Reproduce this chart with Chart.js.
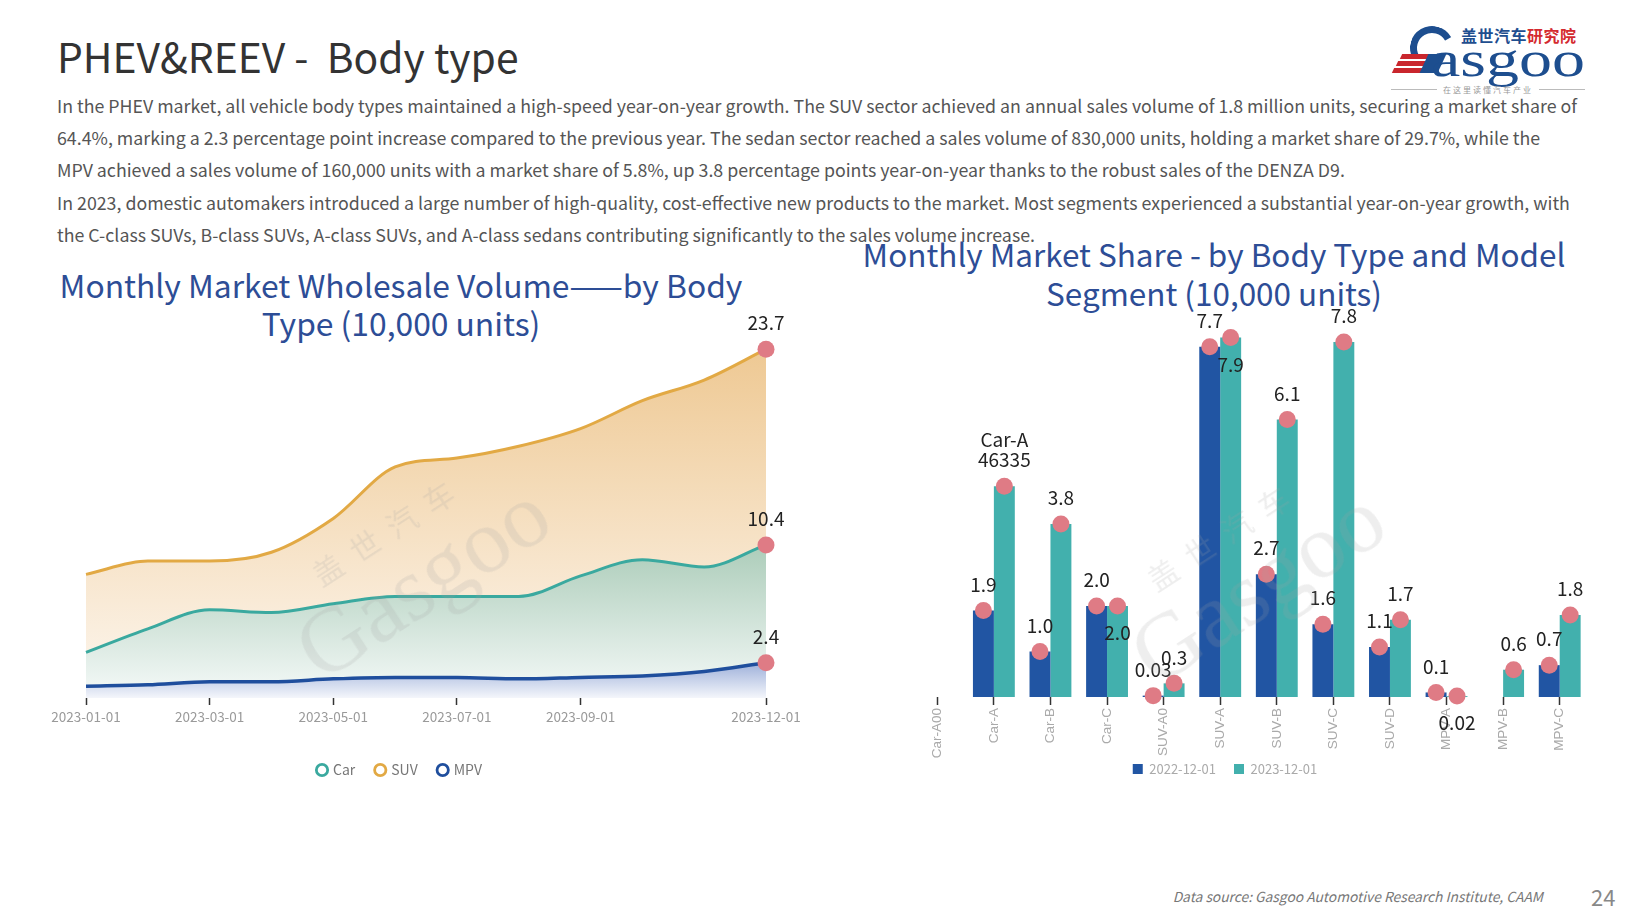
<!DOCTYPE html>
<html>
<head>
<meta charset="utf-8">
<script src="https://cdn.jsdelivr.net/npm/chart.js@4.4.1/dist/chart.umd.min.js"></script>
<style>
html,body{margin:0;padding:0;background:#fff;}
body{width:1640px;height:922px;position:relative;overflow:hidden;font-family:"Noto Sans CJK SC","Noto Sans",sans-serif;}
.abs{position:absolute;}
#title{left:57px;top:30px;font-size:40.8px;color:#333;white-space:pre;line-height:52px;}
#para{left:57px;top:89px;font-size:18px;color:#555;line-height:32.2px;white-space:nowrap;}
#para div{width:max-content;}
.ctitle{color:#2d4d96;font-size:31px;line-height:38px;text-align:center;white-space:nowrap;}
.ctitle div{width:max-content;margin:0 auto;}
#t1{left:0;top:265px;width:802px;}
#t2{left:814px;top:234px;width:800px;line-height:39px;}
#c1wrap{left:-10px;top:290px;width:820px;height:500px;}
#c2wrap{left:860px;top:290px;width:730px;height:500px;}
.wm{color:rgba(160,160,160,0.18);transform-origin:center;pointer-events:none;z-index:5;text-align:center;}
.wm .cn{font-size:30px;letter-spacing:14px;}
.wm .en{font-size:92px;line-height:80px;font-family:"Liberation Serif",serif;}
#footer{right:97px;top:886px;font-size:13.8px;color:#777;font-style:italic;white-space:nowrap;}
#page{left:1591px;top:880px;font-size:22px;color:#888;}
#logo-cn{left:1461px;top:23px;font-size:16px;font-weight:bold;letter-spacing:0.5px;white-space:nowrap;}
#logo-en{left:1431px;top:31px;font-size:50px;color:#1d4e8f;font-family:"Liberation Serif",serif;line-height:56px;transform-origin:left center;}
#arc{left:1410px;top:26px;width:44px;height:44px;border:7px solid #1d4e8f;border-radius:50%;border-right-color:transparent;border-bottom-color:transparent;transform:rotate(15deg);box-sizing:border-box;}
.stripe{height:5px;background:#c9262d;transform:skewX(-25deg);}
#tag{left:1391px;top:84px;width:194px;font-size:8px;color:#999;display:flex;align-items:center;gap:6px;letter-spacing:2px;}
#tag .ln{flex:1;height:1px;background:#bbb;}
</style>
</head>
<body>
<div id="title" class="abs">PHEV&amp;REEV -  Body type</div>
<div id="para" class="abs">
<div id="p1">In the PHEV market, all vehicle body types maintained a high-speed year-on-year growth. The SUV sector achieved an annual sales volume of 1.8 million units, securing a market share of</div>
<div>64.4%, marking a 2.3 percentage point increase compared to the previous year. The sedan sector reached a sales volume of 830,000 units, holding a market share of 29.7%, while the</div>
<div>MPV achieved a sales volume of 160,000 units with a market share of 5.8%, up 3.8 percentage points year-on-year thanks to the robust sales of the DENZA D9.</div>
<div>In 2023, domestic automakers introduced a large number of high-quality, cost-effective new products to the market. Most segments experienced a substantial year-on-year growth, with</div>
<div>the C-class SUVs, B-class SUVs, A-class SUVs, and A-class sedans contributing significantly to the sales volume increase.</div>
</div>

<div id="logo-cn" class="abs"><span style="color:#1f4e8f">盖世汽车</span><span style="color:#d42a2f">研究院</span></div>
<div id="arc" class="abs"></div>
<div class="abs" style="left:1393px;top:54px;width:40px;">
  <div class="stripe" style="margin-left:8px;width:30px"></div>
  <div class="stripe" style="margin-top:2px;margin-left:4px;width:32px"></div>
  <div class="stripe" style="margin-top:2px;width:34px"></div>
</div>
<div class="abs" style="left:1424px;top:54px;width:18px;height:19px;background:#1d4e8f;transform:skewX(-25deg);"></div>
<div id="logo-en" class="abs">asgoo</div>
<div id="tag" class="abs"><div class="ln"></div><span>在这里读懂汽车产业</span><div class="ln"></div></div>

<div id="t1" class="abs ctitle"><div id="t1a">Monthly Market Wholesale Volume——by Body</div><div>Type (10,000 units)</div></div>
<div id="t2" class="abs ctitle"><div id="t2a">Monthly Market Share - by Body Type and Model</div><div>Segment (10,000 units)</div></div>

<div id="c1wrap" class="abs"><canvas id="c1" width="820" height="500"></canvas></div>
<div id="c2wrap" class="abs"><canvas id="c2" width="730" height="500"></canvas></div>

<div class="abs wm" style="left:250px;top:500px;width:320px;transform:rotate(-33deg);"><div class="cn">盖世汽车</div><div class="en">Gasgoo</div></div>
<div class="abs wm" style="left:1085px;top:505px;width:320px;transform:rotate(-33deg);"><div class="cn">盖世汽车</div><div class="en">Gasgoo</div></div>

<div id="footer" class="abs">Data source: Gasgoo Automotive Research Institute, CAAM</div>
<div id="page" class="abs">24</div>

<script>
// ---------- data: left chart ----------
const months = ['2023-01-01','2023-02-01','2023-03-01','2023-04-01','2023-05-01','2023-06-01','2023-07-01','2023-08-01','2023-09-01','2023-10-01','2023-11-01','2023-12-01'];
const shownMonthTicks = ['2023-01-01','2023-03-01','2023-05-01','2023-07-01','2023-09-01','2023-12-01'];
const carVolume = [3.1, 4.7, 6.0, 5.8, 6.4, 6.9, 6.9, 6.9, 8.3, 9.4, 8.9, 10.4];
const suvVolume = [8.4, 9.3, 9.3, 9.9, 12.2, 15.7, 16.3, 17.1, 18.3, 20.2, 21.6, 23.7];
const mpvVolume = [0.8, 0.9, 1.1, 1.1, 1.3, 1.4, 1.4, 1.3, 1.4, 1.5, 1.8, 2.4];
const bodyTypeNames = ['Car', 'SUV', 'MPV'];

// ---------- data: right chart ----------
const segments = ['Car-A00','Car-A','Car-B','Car-C','SUV-A0','SUV-A','SUV-B','SUV-C','SUV-D','MPV-A','MPV-B','MPV-C'];
const seriesNames = ['2022-12-01', '2023-12-01'];
const sales2022 = [null, 1.9, 1.0, 2.0, 0.03, 7.7, 2.7, 1.6, 1.1, 0.1, null, 0.7];
const sales2023 = [null, 4.6335, 3.8, 2.0, 0.3, 7.9, 6.1, 7.8, 1.7, 0.02, 0.6, 1.8];
const labels2022 = ['', '1.9', '1.0', '2.0', '0.03', '7.7', '2.7', '1.6', '1.1', '0.1', '', '0.7'];
const labels2023 = ['', 'Car-A\n46335', '3.8', '2.0', '0.3', '7.9', '6.1', '7.8', '1.7', '0.02', '0.6', '1.8'];
</script>

<script>
function fitFont(el, measureEl, target){
  const fs = parseFloat(getComputedStyle(el).fontSize);
  const w = measureEl.getBoundingClientRect().width;
  if (w > 0) el.style.fontSize = (fs * target / w) + 'px';
}
function fitAll(){
  fitFont(document.getElementById('para'), document.getElementById('p1'), 1521);
  fitFont(document.getElementById('t1'), document.getElementById('t1a'), 683);
  fitFont(document.getElementById('t2'), document.getElementById('t2a'), 703);
  const le = document.getElementById('logo-en');
  le.style.transform = 'none';
  const w = le.getBoundingClientRect().width;
  le.style.transform = 'scaleX(' + (154 / w) + ')';
}
fitAll();
if (document.fonts && document.fonts.ready) document.fonts.ready.then(fitAll);

const FONT = '"Noto Sans CJK SC","Noto Sans",sans-serif';
const DOT = '#df7b85';

const labelPlugin = {
  id: 'valueLabels',
  afterLayout(chart) {
    // let rotated category labels extend below the axis box (no clipping)
    const x = chart.scales.x;
    if (x) x.bottom = chart.height;
  },
  afterDatasetsDraw(chart) {
    const ctx = chart.ctx;
    ctx.save();
    chart.data.datasets.forEach((ds, di) => {
      if (!ds.barDots) return;
      const meta = chart.getDatasetMeta(di);
      meta.data.forEach((el, i) => {
        if (ds.data[i] === null || ds.data[i] === undefined) return;
        ctx.beginPath();
        ctx.fillStyle = DOT;
        ctx.arc(el.x, el.y, 8.5, 0, Math.PI * 2);
        ctx.fill();
      });
    });
    ctx.font = '19px ' + FONT;
    ctx.fillStyle = '#222';
    ctx.textAlign = 'center';
    ctx.textBaseline = 'middle';
    chart.data.datasets.forEach((ds, di) => {
      if (!ds.valueLabels) return;
      const meta = chart.getDatasetMeta(di);
      meta.data.forEach((el, i) => {
        const txt = ds.valueLabels[i];
        if (!txt) return;
        const lines = txt.split('\n');
        const below = ds.labelBelow && ds.labelBelow.includes(i);
        if (below) {
          lines.forEach((ln, k) => ctx.fillText(ln, el.x, el.y + 27 + k * 20));
        } else {
          lines.forEach((ln, k) => ctx.fillText(ln, el.x, el.y - 26 - (lines.length - 1 - k) * 20));
        }
      });
    });
    ctx.restore();
  }
};

function grad(chart, topVal, topColor, botColor) {
  const {ctx, chartArea, scales} = chart;
  if (!chartArea) return botColor;
  const y0 = scales.y.getPixelForValue(topVal);
  const y1 = scales.y.getPixelForValue(0);
  const g = ctx.createLinearGradient(0, y0, 0, y1);
  g.addColorStop(0, topColor);
  g.addColorStop(1, botColor);
  return g;
}
function lastOnly(arr){ return arr.map((v, i) => i === arr.length - 1 ? v.toFixed(1) : ''); }
const lastIdx = months.length - 1;

function lineDs(name, data, color, width, gTop, gTopColor, gBotColor) {
  return {
    label: name, data: data, borderColor: color, borderWidth: width,
    fill: 'origin', cubicInterpolationMode: 'monotone', clip: false,
    backgroundColor: (c) => grad(c.chart, gTop, gTopColor, gBotColor),
    pointRadius: (c) => c.dataIndex === lastIdx ? 8.5 : 0,
    pointHoverRadius: 0, pointBorderWidth: 0, pointBackgroundColor: DOT,
    valueLabels: lastOnly(data)
  };
}

new Chart(document.getElementById('c1'), {
  type: 'line',
  data: {
    labels: months,
    datasets: [
      lineDs(bodyTypeNames[2], mpvVolume, '#1f4e9d', 3.5, 2.6, 'rgba(150,170,215,1)', 'rgba(244,246,251,1)'),
      lineDs(bodyTypeNames[0], carVolume, '#3aa99f', 3, 11, 'rgba(168,202,182,1)', 'rgba(246,250,249,1)'),
      lineDs(bodyTypeNames[1], suvVolume, '#e2a944', 3, 24, 'rgba(238,200,146,1)', 'rgba(253,247,240,1)')
    ]
  },
  options: {
    responsive: false, animation: false,
    layout: {padding: {top: 40, left: 0, right: 0, bottom: 3}},
    plugins: {
      tooltip: {enabled: false},
      legend: {
        position: 'bottom',
        labels: {
          usePointStyle: true, pointStyle: 'circle', boxWidth: 8, boxHeight: 8, padding: 21,
          color: '#777', font: {family: FONT, size: 14},
          generateLabels(chart) {
            const items = Chart.defaults.plugins.legend.labels.generateLabels(chart);
            items.forEach(it => {
              const ds = chart.data.datasets[it.datasetIndex];
              it.fillStyle = '#fff'; it.strokeStyle = ds.borderColor; it.lineWidth = 2.8; it.pointStyle = 'circle';
            });
            return items;
          },
          sort: (a, b) => bodyTypeNames.indexOf(a.text) - bodyTypeNames.indexOf(b.text)
        }
      }
    },
    scales: {
      x: {
        type: 'category', offset: false,
        border: {display: false},
        grid: {drawOnChartArea: false, drawTicks: true, tickLength: 7, tickWidth: 1.5,
               tickColor: (c) => shownMonthTicks.includes(months[c.index]) ? '#333' : 'rgba(0,0,0,0)'},
        ticks: {autoSkip: false, maxRotation: 0, minRotation: 0, padding: 4, color: '#9a9a9a',
                font: {family: FONT, size: 13.5},
                callback: function(v, i) { const l = months[i]; return shownMonthTicks.includes(l) ? l : ''; }},
        afterFit(s) { s.height = 44; }
      },
      y: {type: 'linear', min: 0, max: 25, position: 'left', ticks: {display: false}, grid: {display: false}, border: {display: false},
          afterFit(s) { s.width = 96; }},
      yR: {type: 'linear', position: 'right', ticks: {display: false}, grid: {display: false}, border: {display: false},
          afterFit(s) { s.width = 44; }}
    }
  },
  plugins: [labelPlugin]
});

new Chart(document.getElementById('c2'), {
  type: 'bar',
  data: {
    labels: segments,
    datasets: [
      {label: seriesNames[0], data: sales2022, backgroundColor: '#2155a3', borderWidth: 0,
       barDots: true, valueLabels: labels2022, labelBelow: []},
      {label: seriesNames[1], data: sales2023, backgroundColor: '#42b0ad', borderWidth: 0,
       barDots: true, valueLabels: labels2023, labelBelow: [3, 5, 9]}
    ]
  },
  options: {
    responsive: false, animation: false,
    categoryPercentage: 0.74, barPercentage: 1.0,
    layout: {padding: {top: 43, left: 0, right: 0, bottom: 4.5}},
    plugins: {
      tooltip: {enabled: false},
      legend: {
        position: 'bottom',
        labels: {boxWidth: 10, boxHeight: 10, padding: 18, color: '#aaa', font: {family: FONT, size: 13}}
      }
    },
    scales: {
      x: {
        offset: true, border: {display: false},
        grid: {drawOnChartArea: false, drawTicks: true, tickLength: 8, tickWidth: 1.5, tickColor: '#333', offset: false},
        ticks: {autoSkip: false, minRotation: 90, maxRotation: 90, padding: 3, color: '#aaa',
                font: {family: '"Liberation Sans","DejaVu Sans",sans-serif', size: 13.5}},
        afterFit(s) { s.height = 47.5; }
      },
      y: {type: 'linear', min: 0, max: 8, position: 'left', ticks: {display: false}, grid: {display: false}, border: {display: false},
          afterFit(s) { s.width = 49; }},
      yR: {type: 'linear', position: 'right', ticks: {display: false}, grid: {display: false}, border: {display: false},
          afterFit(s) { s.width = 2; }}
    }
  },
  plugins: [labelPlugin]
});
</script>
</body>
</html>
